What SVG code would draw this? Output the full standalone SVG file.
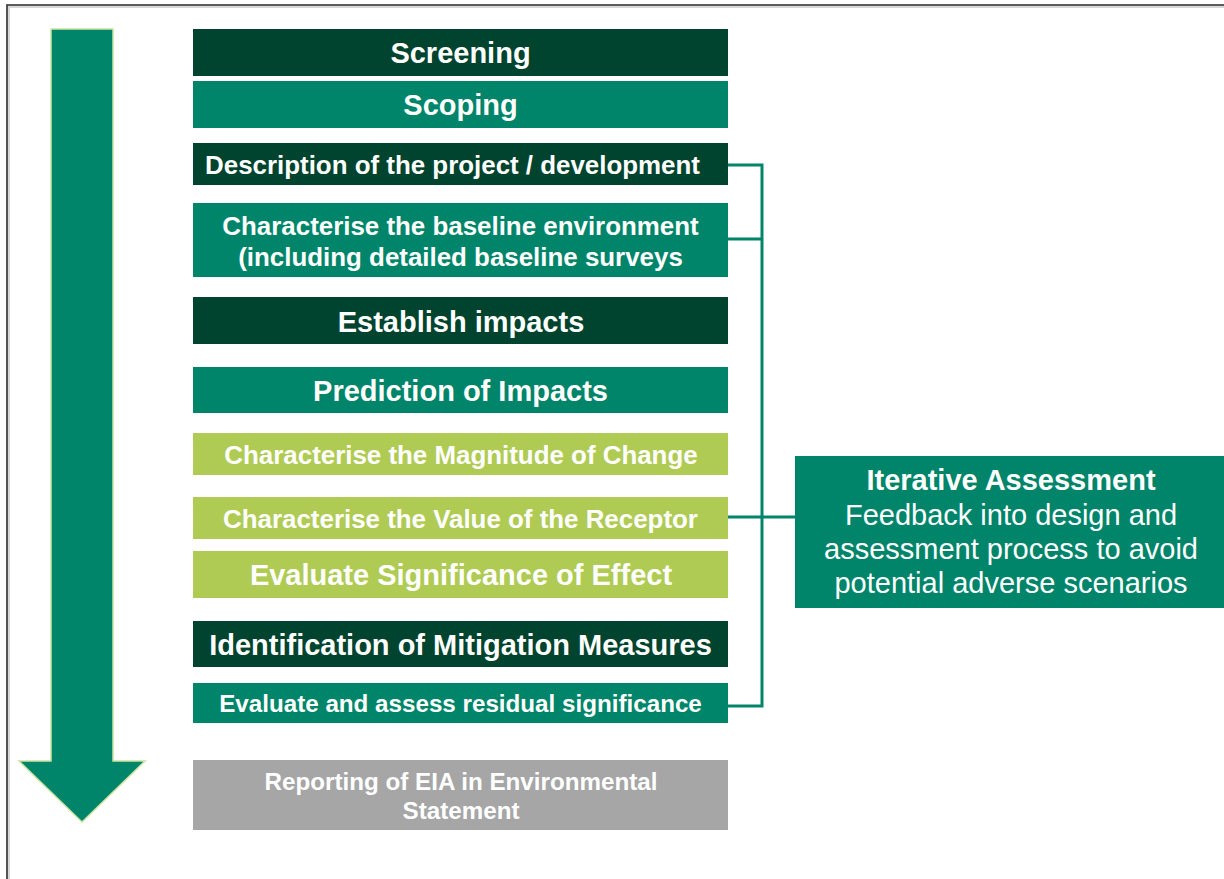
<svg xmlns="http://www.w3.org/2000/svg" width="1224" height="879" viewBox="0 0 1224 879">
  <style>
    .dark { fill: #00432f; }
    .mid { fill: #00856a; }
    .lite { fill: #b0cb53; }
    .grey { fill: #a6a6a6; }
    text { font-family: "Liberation Sans", Arial, sans-serif; fill: #ffffff; text-anchor: middle; }
    .b { font-weight: bold; }
    .t1 { font-size: 29px; }
    .t2 { font-size: 25.9px; }
    .t3 { font-size: 24.2px; }
    .link { stroke: #00856a; stroke-width: 3; fill: none; }
  </style>
  <rect width="1224" height="879" fill="#ffffff"/>
  <!-- page frame -->
  <g id="frame">
    <path d="M8 879 V6 H1224" fill="none" stroke="#d8d8d8" stroke-width="4"/>
    <path d="M7 879 V5 H1224" fill="none" stroke="#333333" stroke-width="1.6"/>
  </g>
  <!-- downward process arrow -->
  <g id="flow-arrow">
    <polygon points="51,29 113,29 113,761 145,761 82,822 19,761 51,761" fill="#00856a" stroke="#c9e3a0" stroke-width="1.5"/>
  </g>
  <g id="connectors">
    <path class="link" d="M728 165 H762 V706 H728"/>
    <path class="link" d="M728 239 H762"/>
    <path class="link" d="M728 517 H795"/>
  </g>
  <g id="screening"><rect class="dark" x="193" y="29" width="535" height="47"/><text class="b t1" x="460.5" y="63">Screening</text></g>
  <g id="scoping"><rect class="mid" x="193" y="81" width="535" height="47"/><text class="b t1" x="460.5" y="115">Scoping</text></g>
  <g id="description"><rect class="dark" x="193" y="143" width="535" height="42"/><text class="b t2" x="452.5" y="174">Description of the project / development</text></g>
  <g id="baseline"><rect class="mid" x="193" y="203" width="535" height="74"/><text class="b t2" x="460.5" y="235">Characterise the baseline environment</text><text class="b t2" x="460.5" y="266">(including detailed baseline surveys</text></g>
  <g id="establish"><rect class="dark" x="193" y="297" width="535" height="47"/><text class="b t1" x="461" y="332">Establish impacts</text></g>
  <g id="prediction"><rect class="mid" x="193" y="367" width="535" height="46"/><text class="b t1" x="460.5" y="401">Prediction of Impacts</text></g>
  <g id="magnitude"><rect class="lite" x="193" y="433" width="535" height="42"/><text class="b t2" x="461" y="464">Characterise the Magnitude of Change</text></g>
  <g id="receptor"><rect class="lite" x="193" y="497" width="535" height="42"/><text class="b t2" x="460.5" y="528">Characterise the Value of the Receptor</text></g>
  <g id="significance"><rect class="lite" x="193" y="551" width="535" height="47"/><text class="b t1" x="461" y="585">Evaluate Significance of Effect</text></g>
  <g id="mitigation"><rect class="dark" x="193" y="621" width="535" height="46"/><text class="b t1" x="460.5" y="655">Identification of Mitigation Measures</text></g>
  <g id="residual"><rect class="mid" x="193" y="683" width="535" height="40"/><text class="b t3" x="460.5" y="712">Evaluate and assess residual significance</text></g>
  <g id="reporting"><rect class="grey" x="193" y="760" width="535" height="70"/><text class="b t3" x="461" y="790">Reporting of EIA in Environmental</text><text class="b t3" x="461" y="819">Statement</text></g>
  <g id="iterative">
    <rect class="mid" x="795" y="456" width="429" height="152"/>
    <text class="b" x="1011" y="490" font-size="29">Iterative Assessment</text>
    <text x="1011" y="525" font-size="29">Feedback into design and</text>
    <text x="1011" y="559" font-size="29">assessment process to avoid</text>
    <text x="1011" y="593" font-size="29">potential adverse scenarios</text>
  </g>
</svg>
